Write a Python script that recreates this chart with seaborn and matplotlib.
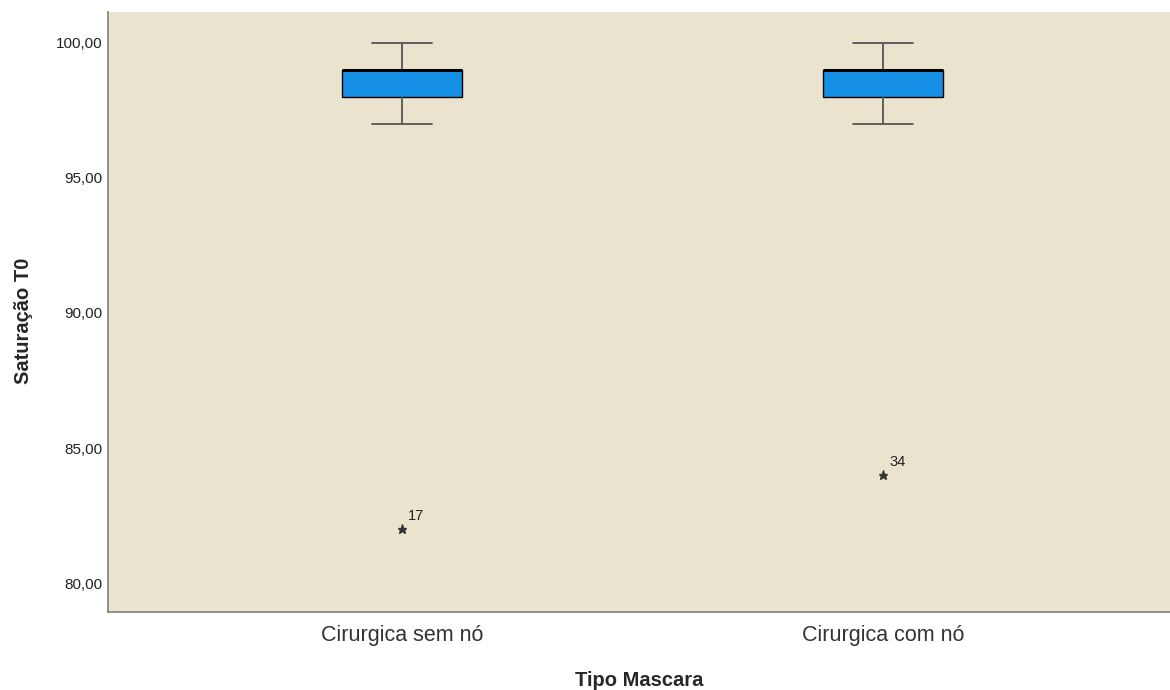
import numpy as np
import pandas as pd
import matplotlib
matplotlib.use("Agg")
import matplotlib.pyplot as plt
from matplotlib.ticker import FuncFormatter
import seaborn as sns

# groups and the saturation readings behind each box
categories = ["Cirurgica sem nó", "Cirurgica com nó"]
sat_sem_no = [82, 97, 98, 98, 98, 99, 99, 99, 99, 99, 100]
sat_com_no = [84, 97, 98, 98, 98, 99, 99, 99, 99, 99, 100]

# outlier case numbers shown next to the stars
outlier_values = [82, 84]
outlier_cases = ["17", "34"]

y_ticks = [80, 85, 90, 95, 100]

df = pd.DataFrame({
    "Tipo Mascara": [categories[0]] * len(sat_sem_no) + [categories[1]] * len(sat_com_no),
    "Saturação T0": sat_sem_no + sat_com_no,
})

sns.set_style("white")
plt.rcParams["font.family"] = ["Liberation Sans", "DejaVu Sans"]

fig = plt.figure(figsize=(11.7, 6.9), dpi=100)
ax = fig.add_axes([0.0923, 0.113, 0.9077, 0.870])
ax.set_facecolor("#EAE4CF")

sns.boxplot(
    data=df, x="Tipo Mascara", y="Saturação T0", order=categories,
    color="#1590E6", saturation=1, width=0.25, linecolor="black",
    linewidth=1.0, ax=ax,
    medianprops=dict(color="black", linewidth=2.2),
    whiskerprops=dict(color="#555555", linewidth=1.3),
    capprops=dict(color="#555555", linewidth=1.3),
    flierprops=dict(marker="*", markersize=6.5, markerfacecolor="#333333",
                    markeredgecolor="#333333"),
)

for i, (val, case) in enumerate(zip(outlier_values, outlier_cases)):
    ax.annotate(case, xy=(i, val), xytext=(4.5, 6.5), textcoords="offset points",
                fontsize=10.5, color="#222222", ha="left", va="baseline")

ax.set_xlim(-0.611, 1.597)
ax.set_ylim(78.93, 101.15)
ax.set_yticks(y_ticks)
ax.yaxis.set_major_formatter(FuncFormatter(lambda v, p: f"{v:.2f}".replace(".", ",")))
ax.tick_params(axis="y", length=0, pad=4, labelsize=11, labelcolor="#222222")
ax.tick_params(axis="x", length=0, pad=9, labelsize=15.5, labelcolor="#333333")

for s in ["top", "right"]:
    ax.spines[s].set_visible(False)
for s in ["left", "bottom"]:
    ax.spines[s].set_color("#888888")
    ax.spines[s].set_linewidth(1.3)

ax.set_xlabel("Tipo Mascara", fontsize=14.5, fontweight="bold", labelpad=18)
ax.set_ylabel("Saturação T0", fontsize=14.5, fontweight="bold")
ax.yaxis.set_label_coords(-0.071, 0.485)

fig.savefig("out.png", dpi=100)
